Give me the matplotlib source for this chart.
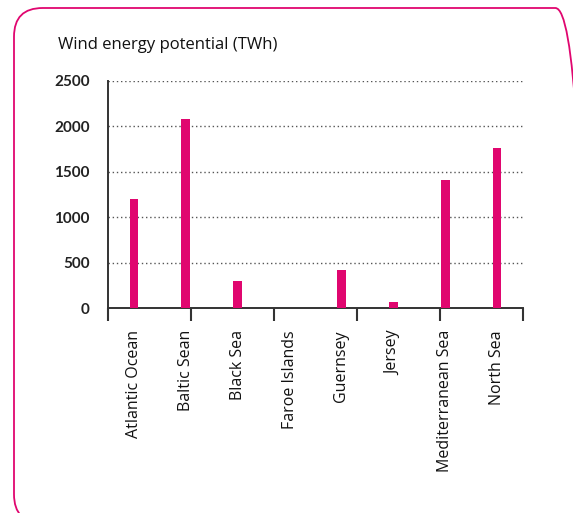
import matplotlib
matplotlib.use("Agg")
import matplotlib.pyplot as plt
from matplotlib.patches import FancyBboxPatch
import numpy as np

# data
regions = ["Atlantic Ocean", "Baltic Sean", "Black Sea", "Faroe Islands",
           "Guernsey", "Jersey", "Mediterranean Sea", "North Sea"]
potential_twh = [1200, 2080, 300, 0, 420, 65, 1410, 1760]
y_ticks = [0, 500, 1000, 1500, 2000, 2500]

bar_color = "#e0066f"
axis_color = "#333333"

plt.rcParams["font.family"] = ["Open Sans", "DejaVu Sans"]

fig = plt.figure(figsize=(5.73, 5.13), dpi=100)
ax = fig.add_axes([108 / 573, 1 - 308 / 513, 415 / 573, 227 / 513])

x = np.arange(len(regions))
ax.bar(x, potential_twh, width=0.17, color=bar_color, zorder=3)

ax.set_xlim(-0.5, len(regions) - 0.5)
ax.set_ylim(0, 2500)

# grid
ax.set_yticks(y_ticks)
ax.set_yticklabels([str(v) for v in y_ticks], fontfamily="Lato",
                   fontweight="bold", fontsize=11, color="#222222")
for v in y_ticks[1:]:
    ax.axhline(v, color="#555555", linestyle=(0, (1, 2)), linewidth=1, zorder=1)
ax.tick_params(axis="y", length=0, pad=13)

# x axis: labels at bars, separator ticks evenly spaced
ax.set_xticks(x)
ax.set_xticklabels(regions, rotation=90, fontsize=11.5, color="#111111")
ax.tick_params(axis="x", which="major", length=0, pad=16)
ax.set_xticks(np.linspace(-0.5, len(regions) - 0.5, 6), minor=True)
ax.tick_params(axis="x", which="minor", length=9, width=1.5, color=axis_color,
               direction="out")

for side in ["top", "right"]:
    ax.spines[side].set_visible(False)
for side in ["left", "bottom"]:
    ax.spines[side].set_color(axis_color)
    ax.spines[side].set_linewidth(1.4)

fig.text(58 / 573, 1 - 45 / 513, "Wind energy potential (TWh)",
         fontsize=12, color="#111111", va="center", ha="left")

# rounded frame
frame = FancyBboxPatch((14 / 573, -10 / 513), 570 / 573, 515 / 513,
                       boxstyle="round,pad=0,rounding_size=0.05",
                       transform=fig.transFigure, fill=False,
                       edgecolor=bar_color, linewidth=1.3,
                       mutation_aspect=573 / 513)
fig.patches.append(frame)

fig.savefig("out.png", dpi=100)
